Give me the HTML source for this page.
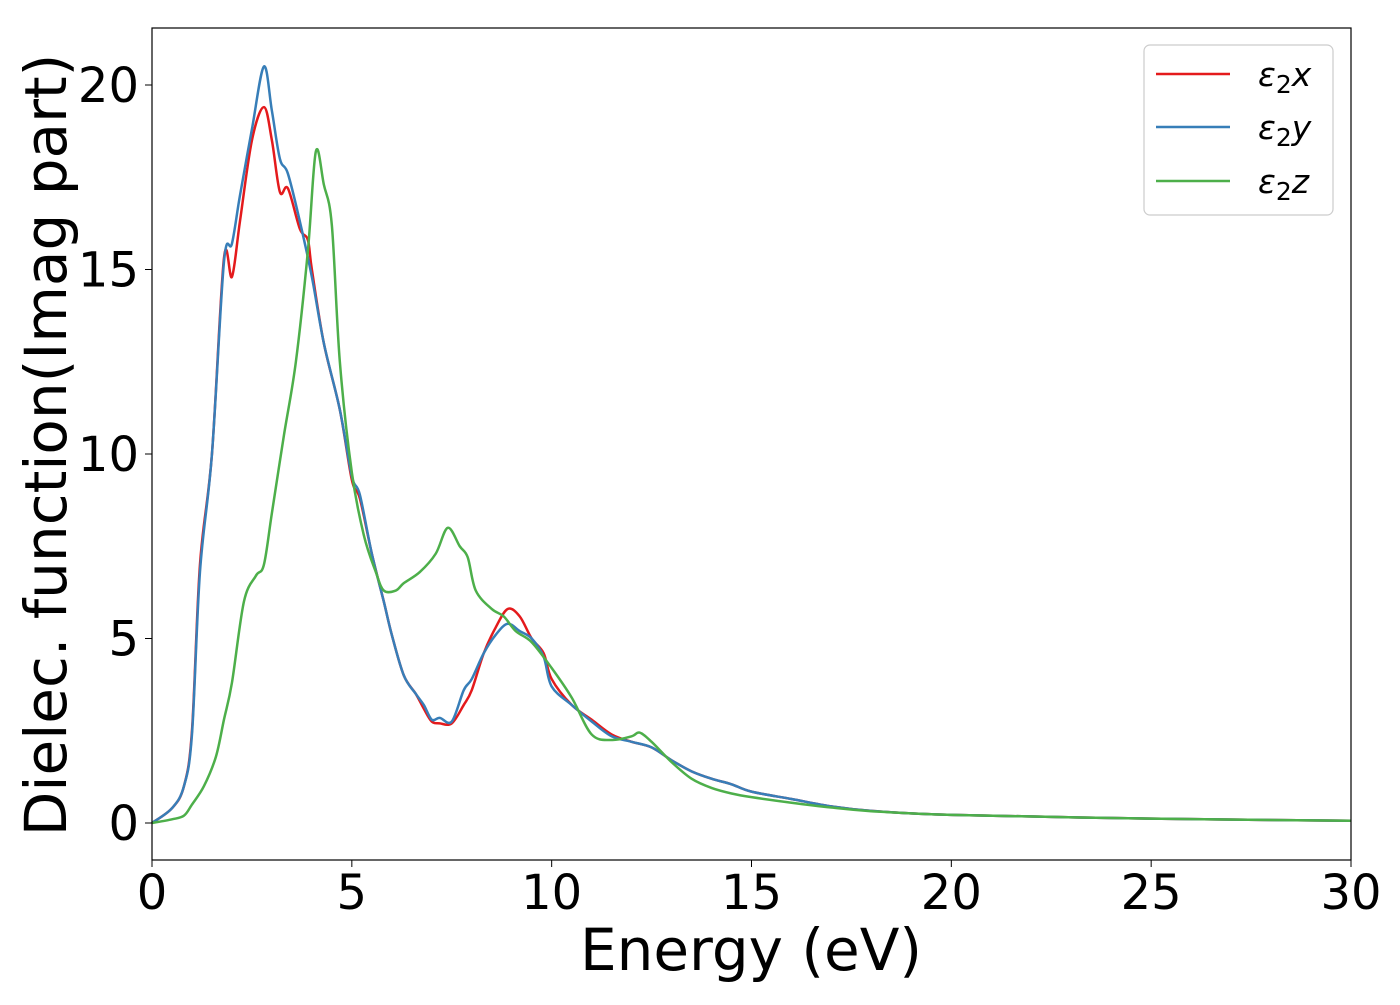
<!DOCTYPE html>
<html><head><meta charset="utf-8">
<style>
html,body{margin:0;padding:0;background:#fff;}
svg text{font-family:"DejaVu Sans","Liberation Sans",sans-serif;fill:#000;}
</style></head>
<body>
<svg id="chart" width="1400" height="1000" xmlns="http://www.w3.org/2000/svg">
<rect x="0" y="0" width="1400" height="1000" fill="#fff"/>
<g id="plot"></g>
<rect x="152" y="28" width="1199" height="832" fill="none" stroke="#000" stroke-width="1.2"/>
<g id="xticks"></g>
<g id="yticks"></g>
<text x="751" y="970" font-size="58" text-anchor="middle">Energy (eV)</text>
<text transform="translate(66,445) rotate(-90)" font-size="58" text-anchor="middle">Dielec. function(Imag part)</text>
<g>
<rect x="1144" y="45" width="189" height="170" rx="6" fill="#fff" fill-opacity="0.8" stroke="#ccc" stroke-width="1.2"/>
<line x1="1156" y1="74" x2="1230" y2="74" stroke="#e41a1c" stroke-width="2.5"/>
<text x="1258" y="86" font-size="33" font-style="italic">ε<tspan font-style="normal" font-size="25" dy="7">2</tspan><tspan dy="-7">x</tspan></text>
<line x1="1156" y1="127" x2="1230" y2="127" stroke="#377eb8" stroke-width="2.5"/>
<text x="1258" y="139" font-size="33" font-style="italic">ε<tspan font-style="normal" font-size="25" dy="7">2</tspan><tspan dy="-7">y</tspan></text>
<line x1="1156" y1="181" x2="1230" y2="181" stroke="#4daf4a" stroke-width="2.5"/>
<text x="1258" y="193" font-size="33" font-style="italic">ε<tspan font-style="normal" font-size="25" dy="7">2</tspan><tspan dy="-7">z</tspan></text>
</g>
</svg>
<script>
const xTickLabels=[0,5,10,15,20,25,30];
const yTickLabels=[0,5,10,15,20];
const exE=[0,0.5,0.8,1.0,1.2,1.5,1.8,2.0,2.2,2.5,2.8,3.0,3.2,3.4,3.7,3.9,4.0,4.3,4.7,5.0,5.2,5.5,5.8,6.0,6.3,6.6,6.8,7.0,7.2,7.5,7.8,8.0,8.3,8.6,8.9,9.2,9.5,9.8,10.0,10.5,11,11.5,12,12.5,13,13.5,14,14.5,15,16,17,18,20,25,30];
const exV=[0,0.4,1,2.5,7,10,15.3,14.8,16.3,18.5,19.4,18.5,17.1,17.2,16.1,15.8,15,13,11.2,9.3,8.8,7.3,6,5.1,4,3.5,3.1,2.75,2.7,2.7,3.2,3.6,4.6,5.3,5.8,5.6,5.0,4.6,3.9,3.2,2.8,2.4,2.2,2.05,1.7,1.4,1.2,1.05,0.85,0.65,0.45,0.33,0.22,0.12,0.06];
const eyE=[0,0.5,0.8,1.0,1.2,1.5,1.8,2.0,2.2,2.5,2.8,3.0,3.2,3.4,3.7,4.0,4.3,4.7,5.0,5.2,5.5,5.8,6.0,6.3,6.6,6.8,7.0,7.2,7.5,7.8,8.0,8.3,8.6,8.9,9.2,9.5,9.8,10.0,10.5,11,11.5,12,12.5,13,13.5,14,14.5,15,16,17,18,20,25,30];
const eyV=[0,0.4,1,2.4,6.8,10,15.2,15.7,17,18.8,20.5,19.3,18,17.6,16.3,14.8,13,11.2,9.4,8.9,7.3,6,5.1,4,3.5,3.2,2.8,2.85,2.75,3.6,3.9,4.6,5.1,5.4,5.2,5.0,4.5,3.7,3.2,2.75,2.35,2.2,2.05,1.7,1.4,1.2,1.05,0.85,0.65,0.45,0.33,0.22,0.12,0.06];
const ezE=[0,0.5,0.8,1.0,1.3,1.6,1.8,2.0,2.3,2.6,2.8,3.0,3.3,3.6,3.9,4.1,4.3,4.5,4.7,5.0,5.3,5.6,5.8,6.1,6.3,6.7,7.1,7.4,7.7,7.9,8.1,8.5,8.8,9.1,9.5,10,10.5,11,11.5,12,12.2,12.5,13,13.5,14,14.5,15,16,17,18,20,25,30];
const ezV=[0,0.1,0.2,0.5,1,1.8,2.8,3.8,6,6.7,7,8.4,10.5,12.5,15.5,18.2,17.3,16.2,12.5,9.5,7.8,6.8,6.3,6.3,6.5,6.8,7.3,8.0,7.5,7.2,6.3,5.8,5.6,5.2,4.9,4.2,3.4,2.4,2.25,2.35,2.45,2.2,1.65,1.2,0.95,0.8,0.7,0.55,0.42,0.32,0.22,0.12,0.06];

const X0=152,X1=1351,Y0=823,Y20=85;
function xs(v){return X0+(X1-X0)*v/30;}
function ys(v){return Y0+(Y20-Y0)*v/20;}
const NS="http://www.w3.org/2000/svg";
function pathFor(E,V){
  const p=E.map((e,i)=>[xs(e),ys(V[i])]);
  let d="M"+p[0][0]+","+p[0][1];
  for(let i=0;i<p.length-1;i++){
    const a=p[Math.max(i-1,0)],b=p[i],c=p[i+1],e=p[Math.min(i+2,p.length-1)];
    const c1=[b[0]+(c[0]-a[0])/6,b[1]+(c[1]-a[1])/6];
    const c2=[c[0]-(e[0]-b[0])/6,c[1]-(e[1]-b[1])/6];
    d+=" C"+c1[0]+","+c1[1]+" "+c2[0]+","+c2[1]+" "+c[0]+","+c[1];
  }
  return d;
}
const plot=document.getElementById("plot");
const series=[[exE,exV,"#e41a1c","series-eps2-x"],[eyE,eyV,"#377eb8","series-eps2-y"],[ezE,ezV,"#4daf4a","series-eps2-z"]];
series.forEach(s=>{
  const el=document.createElementNS(NS,"path");
  el.setAttribute("d",pathFor(s[0],s[1]));
  el.setAttribute("fill","none");
  el.setAttribute("stroke",s[2]);
  el.setAttribute("stroke-width","2.5");
  
  
  plot.appendChild(el);
});
const xg=document.getElementById("xticks");
xTickLabels.forEach(v=>{
  const l=document.createElementNS(NS,"line");
  l.setAttribute("x1",xs(v));l.setAttribute("x2",xs(v));
  l.setAttribute("y1",860);l.setAttribute("y2",867);
  l.setAttribute("stroke","#000");
  
  
  xg.appendChild(l);
  const t=document.createElementNS(NS,"text");
  t.setAttribute("x",xs(v));t.setAttribute("y",909);
  t.setAttribute("font-size","48");t.setAttribute("text-anchor","middle");
  t.textContent=v;
  
  
  xg.appendChild(t);
});
const yg=document.getElementById("yticks");
yTickLabels.forEach(v=>{
  const l=document.createElementNS(NS,"line");
  l.setAttribute("x1",145);l.setAttribute("x2",152);
  l.setAttribute("y1",ys(v));l.setAttribute("y2",ys(v));
  l.setAttribute("stroke","#000");
  
  
  yg.appendChild(l);
  const t=document.createElementNS(NS,"text");
  t.setAttribute("x",139);t.setAttribute("y",ys(v)+17);
  t.setAttribute("font-size","48");t.setAttribute("text-anchor","end");
  t.textContent=v;
  
  
  yg.appendChild(t);
});
</script>
</body></html>
